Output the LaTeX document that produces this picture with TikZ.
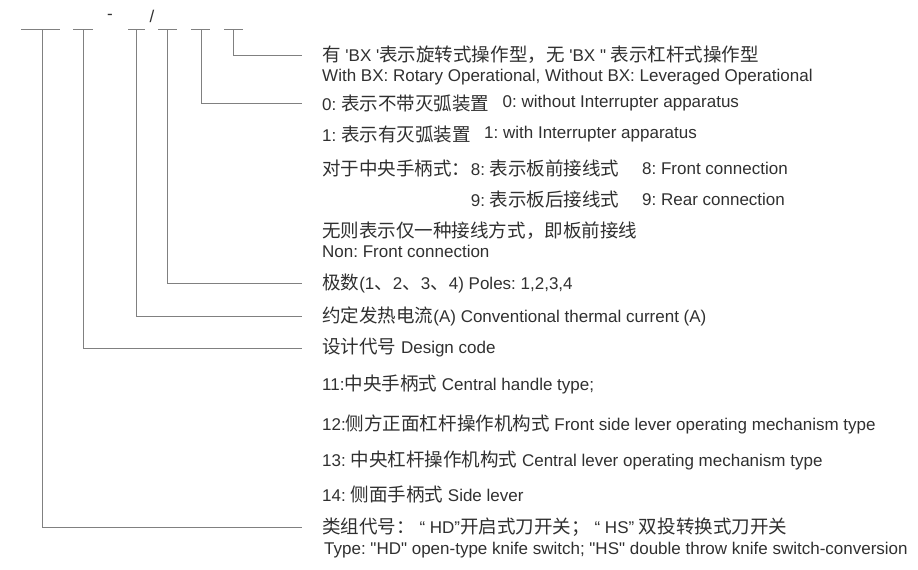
\documentclass[tikz,border=0pt]{standalone}
\usepackage{fontspec}
\setmainfont{Liberation Sans}[Ligatures=TeXOff]
\newfontfamily\zhfont{Noto Sans CJK SC}[Scale=1.09]
\newcommand{\zh}[1]{{\zhfont #1}}
\usetikzlibrary{positioning}
\definecolor{leadgray}{HTML}{808080}
\definecolor{txtgray}{HTML}{303030}
\frenchspacing

\begin{document}
\begin{tikzpicture}[x=1pt,y=-1pt,
  bar/.style={draw=leadgray,line width=0.9pt},
  lead/.style={draw=leadgray,line width=0.9pt},
  lbl/.style={anchor=west,inner sep=0pt,text=txtgray,font=\fontsize{17}{20}\selectfont}]
\useasboundingbox (0,0) rectangle (918,570);

% code positions
\foreach \n/\x/\l/\r in {1/42/21/60, 2/83/73/93, 3/136/128/145,
                         4/167/158/177, 5/201/191/210, 6/233/224/243}{
  \coordinate (c\n) at (\x,29);
  \draw[bar] (\l,29) -- (\r,29);
}
\node[lbl,anchor=center] (dash) at (110,17) {-};
\node[lbl,anchor=center] (slash) at (152,16.5) {/};

% labels
\node[lbl] (t1) at (322,55) {\zh{有} 'BX '\zh{表示旋转式操作型，无} 'BX " \zh{表示杠杆式操作型}};
\node[lbl] (t1e) at (322,77) {With BX: Rotary Operational, Without BX: Leveraged Operational};
\node[lbl] (t2) at (322,103) {0: \zh{表示不带灭弧装置}};
\node[lbl,right=13pt of t2] (t2e) {0: without Interrupter apparatus};
\node[lbl] (t3) at (322,134) {1: \zh{表示有灭弧装置}};
\node[lbl,right=13pt of t3] (t3e) {1: with Interrupter apparatus};
\node[lbl] (t4a) at (322,168) {\zh{对于中央手柄式：}};
\node[lbl,right=0pt of t4a] (t4b) {8: \zh{表示板前接线式}};
\node[lbl] (t4e) at (642,168) {8: Front connection};
\path (t4b.west) ++(0,31) node[lbl] (t5) {9: \zh{表示板后接线式}};
\node[lbl] (t5e) at (642,199) {9: Rear connection};
\node[lbl] (t6) at (322,231) {\zh{无则表示仅一种接线方式，即板前接线}};
\node[lbl] (t6e) at (322,251) {Non: Front connection};
\node[lbl] (t7) at (322,283) {\zh{极数}(1\zh{、}2\zh{、}3\zh{、}4) Poles: 1,2,3,4};
\node[lbl] (t8) at (322,316) {\zh{约定发热电流}(A) Conventional thermal current (A)};
\node[lbl] (t9) at (322,348) {\zh{设计代号} Design code};
\node[lbl] (t10) at (322,384) {11:\zh{中央手柄式} Central handle type;};
\node[lbl] (t11) at (322,424) {12:\zh{侧方正面杠杆操作机构式} Front side lever operating mechanism type};
\node[lbl] (t12) at (322,460) {13: \zh{中央杠杆操作机构式} Central lever operating mechanism type};
\node[lbl] (t13) at (322,494) {14: \zh{侧面手柄式} Side lever};
\node[lbl] (t14) at (322,527) {\zh{类组代号：} “ HD”\zh{开启式刀开关；} “ HS” \zh{双投转换式刀开关}};
\node[lbl] (t14e) at (324,550) {Type: "HD" open-type knife switch; "HS" double throw knife switch-conversion};

% leaders
\draw[lead] (c6) |- ([xshift=-20pt]t1.west);
\draw[lead] (c5) |- ([xshift=-20pt]t2.west);
\draw[lead] (c4) |- ([xshift=-20pt]t7.west);
\draw[lead] (c3) |- ([xshift=-20pt]t8.west);
\draw[lead] (c2) |- ([xshift=-20pt]t9.west);
\draw[lead] (c1) |- ([xshift=-20pt]t14.west);
\end{tikzpicture}
\end{document}
